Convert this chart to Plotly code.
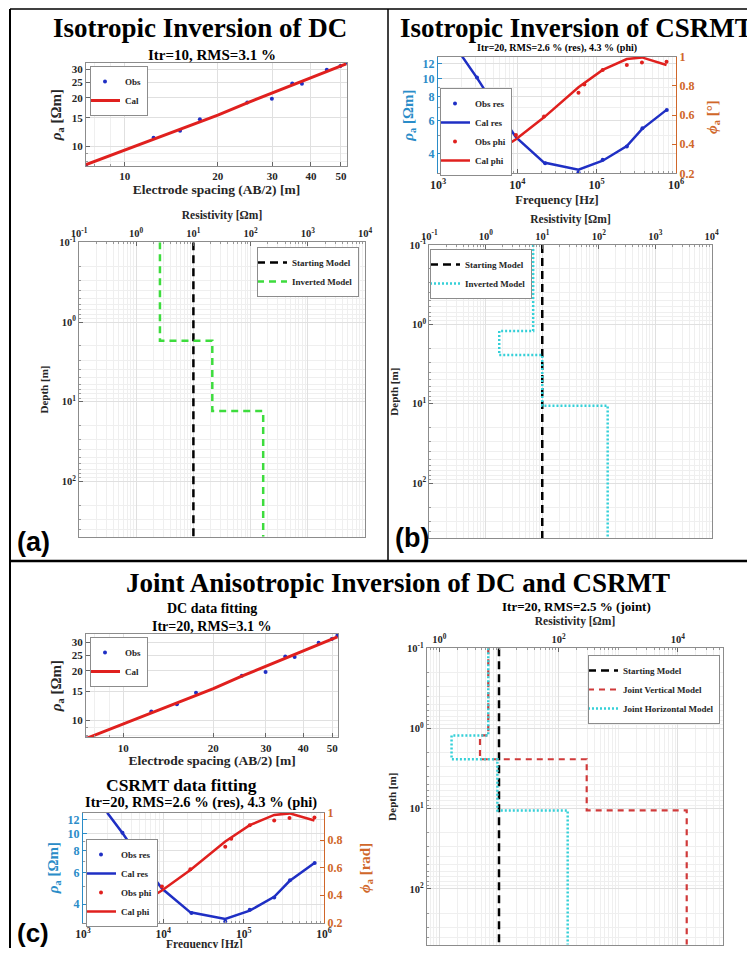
import plotly.graph_objects as go

# ---------------- data ----------------
# DC sounding (apparent resistivity vs AB/2)
ab2_obs = [7.5, 12.4, 15.1, 17.5, 24.9, 29.9, 34.8, 37.4, 45.0, 49.8, 52.0]
rho_obs = [7.7, 11.3, 12.5, 14.7, 18.7, 19.7, 24.5, 24.4, 29.8, 31.4, 33.0]
ab2_cal = [7.5, 10, 12.4, 15.1, 17.5, 20, 24.9, 29.9, 34.8, 37.4, 45, 52]
rho_cal = [7.7, 9.5, 11.1, 12.8, 14.3, 15.6, 18.6, 21.3, 23.9, 25.1, 28.8, 32.4]

# CSRMT sounding
f_res_obs = [3100, 7700, 22400, 59000, 119000, 240000, 377000, 766000]
res_obs = [10.1, 5.5, 3.57, 3.2, 3.72, 4.37, 5.46, 6.82]
f_phi_obs = [2050, 3130, 5400, 6300, 9600, 21700, 59000, 70000, 119000, 240000, 372000, 760000]
phi_obs = [0.338, 0.315, 0.342, 0.36, 0.463, 0.589, 0.753, 0.81, 0.909, 0.943, 0.961, 0.966]
f_cal = [2000, 3130, 5500, 9600, 21700, 59000, 119000, 240000, 372000, 760000]
res_cal = [13.1, 10.0, 6.9, 4.9, 3.6, 3.3, 3.68, 4.4, 5.4, 6.82]
phi_cal = [0.31, 0.315, 0.349, 0.434, 0.584, 0.79, 0.909, 0.984, 0.995, 0.943]

# layered models: resistivity of each layer and depth of each layer top
start_res = [10]
start_top = [0.1]
dc_res = [2.6, 21.4, 166]
dc_top = [0.1, 1.72, 13.1]
cs_res = [6.9, 1.73, 10, 144]
cs_top = [0.1, 1.21, 2.43, 10.6]
jh_res = [6.6, 1.6, 9.4, 142]
jh_top = [0.1, 1.22, 2.42, 10.5]
jv_res = [6.6, 4.8, 296, 14100]
jv_top = [0.1, 1.22, 2.42, 10.5]
depth_bottom = 495

# tick labels
dc_xticks = [10, 20, 30, 40, 50]
dc_yticks = [10, 15, 20, 25, 30]
cs_xticks = [1e3, 1e4, 1e5, 1e6]
cs_xtext = ["10<sup>3</sup>", "10<sup>4</sup>", "10<sup>5</sup>", "10<sup>6</sup>"]
cs_yticks = [4, 6, 8, 10, 12]
phi_ticks = [0.2, 0.4, 0.6, 0.8, 1]
phi_text = ["0.2", "0.4", "0.6", "0.8", "1"]
res_ticks = [0.1, 1, 10, 100, 1000, 10000]
res_text = ["10<sup>-1</sup>", "10<sup>0</sup>", "10<sup>1</sup>", "10<sup>2</sup>", "10<sup>3</sup>", "10<sup>4</sup>"]
jres_ticks = [1, 100, 10000]
jres_text = ["10<sup>0</sup>", "10<sup>2</sup>", "10<sup>4</sup>"]
dep_ticks = [0.1, 1, 10, 100]
dep_text = ["10<sup>-1</sup>", "10<sup>0</sup>", "10<sup>1</sup>", "10<sup>2</sup>"]


def minor_vals(lo, hi):
    out = []
    for e in range(lo, hi + 1):
        for m in range(1, 10):
            out.append(m * 10.0 ** e)
    return out


def step_xy(res, tops, bottom):
    xs, ys = [], []
    for i, r in enumerate(res):
        b = tops[i + 1] if i + 1 < len(tops) else bottom
        xs += [r, r]
        ys += [tops[i], b]
    return xs, ys


# ---------------- style ----------------
# the page body adds an 8 px margin; the figure is sized so the page is 755x956
OFF = 8
W, H = 755 - 2 * OFF, 956 - 2 * OFF
SERIF = "Liberation Serif, Times New Roman, serif"
SANS = "Liberation Sans, Arial, sans-serif"
BLUE_AX = "#2a8cc8"
ORANGE = "#d0672a"
C_BLUE = "#1f2fc4"
C_RED = "#e0201e"
GRID = "#e0e0e0"
MGRID = "#efefef"
LINE = "#8c8c8c"


def px(x):
    return (x - OFF) / W


def py(y):
    return 1 - (y - OFF) / H


def dom_x(a, b):
    return [px(a), px(b)]


def dom_y(top, bot):
    return [py(bot), py(top)]


def tfont(size=11, color="#262626"):
    return dict(family=SERIF, size=size, color=color, weight="bold")


def axis(**kw):
    d = dict(showline=True, linecolor=LINE, linewidth=1, mirror=True,
             ticks="inside", ticklen=4, tickcolor="#666", automargin=False,
             showgrid=True, gridcolor=GRID, gridwidth=1, zeroline=False,
             tickfont=tfont(11))
    d.update(kw)
    return d


def minor(vals):
    return dict(tickvals=vals, showgrid=True, gridcolor=MGRID, griddash="solid",
                ticks="inside", ticklen=2, tickcolor="#999")


fig = go.Figure()

# ---------- (a) top: DC fit ----------
fig.add_trace(go.Scatter(x=ab2_obs, y=rho_obs, mode="markers", name="Obs",
                         marker=dict(color=C_BLUE, size=4), xaxis="x", yaxis="y", legend="legend"))
fig.add_trace(go.Scatter(x=ab2_cal, y=rho_cal, mode="lines", name="Cal",
                         line=dict(color=C_RED, width=3), xaxis="x", yaxis="y", legend="legend"))

# ---------- (a) bottom: DC model ----------
sx, sy = step_xy(start_res, start_top, depth_bottom)
fig.add_trace(go.Scatter(x=sx, y=sy, mode="lines", name="Starting Model",
                         line=dict(color="black", width=2.5, dash="8px,5px"),
                         xaxis="x2", yaxis="y2", legend="legend2"))
mx, my = step_xy(dc_res, dc_top, depth_bottom)
fig.add_trace(go.Scatter(x=mx, y=my, mode="lines", name="Inverted Model",
                         line=dict(color="#3ddc3d", width=2.5, dash="7px,5px"),
                         xaxis="x2", yaxis="y2", legend="legend2"))


# ---------- (b) top: CSRMT fit ----------
def csrmt_traces(xa, ya, ya2, leg):
    fig.add_trace(go.Scatter(x=f_res_obs, y=res_obs, mode="markers", name="Obs res",
                             marker=dict(color=C_BLUE, size=4), xaxis=xa, yaxis=ya, legend=leg))
    fig.add_trace(go.Scatter(x=f_cal, y=res_cal, mode="lines", name="Cal res",
                             line=dict(color=C_BLUE, width=2.5), xaxis=xa, yaxis=ya, legend=leg))
    fig.add_trace(go.Scatter(x=f_phi_obs, y=phi_obs, mode="markers", name="Obs phi",
                             marker=dict(color=C_RED, size=4), xaxis=xa, yaxis=ya2, legend=leg))
    fig.add_trace(go.Scatter(x=f_cal, y=phi_cal, mode="lines", name="Cal phi",
                             line=dict(color=C_RED, width=2.5), xaxis=xa, yaxis=ya2, legend=leg))


csrmt_traces("x3", "y3", "y4", "legend3")

# ---------- (b) bottom: CSRMT model ----------
fig.add_trace(go.Scatter(x=sx, y=sy, mode="lines", name="Starting Model",
                         line=dict(color="black", width=2.5, dash="8px,5px"),
                         xaxis="x4", yaxis="y5", legend="legend4"))
cx, cy = step_xy(cs_res, cs_top, depth_bottom)
fig.add_trace(go.Scatter(x=cx, y=cy, mode="lines", name="Inverted Model",
                         line=dict(color="#35d0d8", width=2.5, dash="2px,2px"),
                         xaxis="x4", yaxis="y5", legend="legend4"))

# ---------- (c) left top: DC fit ----------
fig.add_trace(go.Scatter(x=ab2_obs, y=rho_obs, mode="markers", name="Obs",
                         marker=dict(color=C_BLUE, size=4), xaxis="x5", yaxis="y6", legend="legend5"))
fig.add_trace(go.Scatter(x=ab2_cal, y=rho_cal, mode="lines", name="Cal",
                         line=dict(color=C_RED, width=3), xaxis="x5", yaxis="y6", legend="legend5"))

# ---------- (c) left bottom: CSRMT fit ----------
csrmt_traces("x6", "y7", "y8", "legend6")

# ---------- (c) right: joint model ----------
fig.add_trace(go.Scatter(x=sx, y=sy, mode="lines", name="Starting Model",
                         line=dict(color="black", width=2.5, dash="8px,5px"),
                         xaxis="x7", yaxis="y9", legend="legend7"))
vx, vy = step_xy(jv_res, jv_top, depth_bottom)
fig.add_trace(go.Scatter(x=vx, y=vy, mode="lines", name="Joint Vertical Model",
                         line=dict(color="#d03a3a", width=2.2, dash="6px,5px"),
                         xaxis="x7", yaxis="y9", legend="legend7"))
hx, hy = step_xy(jh_res, jh_top, depth_bottom)
fig.add_trace(go.Scatter(x=hx, y=hy, mode="lines", name="Joint Horizontal Model",
                         line=dict(color="#35d0d8", width=2.5, dash="2px,2px"),
                         xaxis="x7", yaxis="y9", legend="legend7"))

# ---------------- axes ----------------
rho_title = dict(text="<i>ρ</i><sub>a</sub> [Ωm]", font=tfont(15))
dep_title = dict(text="Depth [m]", font=tfont(11), standoff=8)
res_title = dict(text="Resistivity [Ωm]", font=tfont(11.5), standoff=3)

lay = {}
# (a) top
lay["xaxis"] = axis(domain=dom_x(86, 347), anchor="y", type="log", range=[0.875, 1.7185],
                    tickvals=dc_xticks, minor=minor(minor_vals(0, 1)),
                    title=dict(text="Electrode spacing (AB/2) [m]", font=tfont(13.5), standoff=3))
lay["yaxis"] = axis(domain=dom_y(63, 166), anchor="x", type="log", range=[0.878, 1.516],
                    tickvals=dc_yticks, minor=minor(minor_vals(0, 1)),
                    title=dict(rho_title, standoff=6))
# (a) bottom
lay["xaxis2"] = axis(domain=dom_x(79, 365), anchor="y2", type="log", range=[-1, 4], side="top",
                     tickvals=res_ticks, ticktext=res_text, minor=minor(minor_vals(-1, 3)),
                     tickfont=tfont(10.5), title=res_title)
lay["yaxis2"] = axis(domain=dom_y(242.3, 536.7), anchor="x2", type="log", range=[2.694, -1],
                     tickvals=dep_ticks, ticktext=dep_text, minor=minor(minor_vals(-1, 2)),
                     tickfont=tfont(10.5), title=dep_title)
# (b) top
lay["xaxis3"] = axis(domain=dom_x(438, 676), anchor="y3", type="log", range=[3, 6],
                     tickvals=cs_xticks, ticktext=cs_xtext, minor=minor(minor_vals(3, 5)),
                     tickfont=tfont(12),
                     title=dict(text="Frequency [Hz]", font=tfont(12.5), standoff=4))
lay["yaxis3"] = axis(domain=dom_y(56.7, 173.3), anchor="x3", type="log", range=[0.4997, 1.114],
                     tickvals=cs_yticks, minor=minor(minor_vals(0, 1)), mirror=False,
                     linecolor=BLUE_AX, tickcolor=BLUE_AX, tickfont=tfont(12, BLUE_AX),
                     title=dict(text="<i>ρ</i><sub>a</sub> [Ωm]", font=tfont(15, BLUE_AX), standoff=5))
lay["yaxis4"] = axis(overlaying="y3", anchor="x3", side="right", range=[0.2, 1],
                     tickvals=phi_ticks, ticktext=phi_text, showgrid=False, mirror=False,
                     linecolor=ORANGE, tickcolor=ORANGE, tickfont=tfont(12, ORANGE))
# (b) bottom
lay["xaxis4"] = axis(domain=dom_x(429.3, 711.7), anchor="y5", type="log", range=[-1, 4], side="top",
                     tickvals=res_ticks, ticktext=res_text, minor=minor(minor_vals(-1, 3)),
                     tickfont=tfont(10.5), title=dict(res_title, standoff=2))
lay["yaxis5"] = axis(domain=dom_y(245, 538.3), anchor="x4", type="log", range=[2.694, -1],
                     tickvals=dep_ticks, ticktext=dep_text, minor=minor(minor_vals(-1, 2)),
                     tickfont=tfont(10.5), title=dep_title)
# (c) left top
lay["xaxis5"] = axis(domain=dom_x(86, 338.3), anchor="y6", type="log", range=[0.875, 1.719],
                     tickvals=dc_xticks, minor=minor(minor_vals(0, 1)),
                     title=dict(text="Electrode spacing (AB/2) [m]", font=tfont(13.5), standoff=3))
lay["yaxis6"] = axis(domain=dom_y(634, 737.3), anchor="x5", type="log", range=[0.894, 1.528],
                     tickvals=dc_yticks, minor=minor(minor_vals(0, 1)),
                     title=dict(rho_title, standoff=6))
# (c) left bottom (x title drawn as a note below)
lay["xaxis6"] = axis(domain=dom_x(83, 324), anchor="y7", type="log", range=[3, 6],
                     tickvals=cs_xticks, ticktext=cs_xtext, minor=minor(minor_vals(3, 5)),
                     tickfont=tfont(11.5))
lay["yaxis7"] = axis(domain=dom_y(812.7, 922.7), anchor="x6", type="log", range=[0.498, 1.117],
                     tickvals=cs_yticks, minor=minor(minor_vals(0, 1)), mirror=False,
                     linecolor=BLUE_AX, tickcolor=BLUE_AX, tickfont=tfont(12, BLUE_AX),
                     title=dict(text="<i>ρ</i><sub>a</sub> [Ωm]", font=tfont(15, BLUE_AX), standoff=5))
lay["yaxis8"] = axis(overlaying="y7", anchor="x6", side="right", range=[0.2, 1],
                     tickvals=phi_ticks, ticktext=phi_text, showgrid=False, mirror=False,
                     linecolor=ORANGE, tickcolor=ORANGE, tickfont=tfont(12, ORANGE))
# (c) right
lay["xaxis7"] = axis(domain=dom_x(426.7, 723.3), anchor="y9", type="log", range=[-0.213, 4.763], side="top",
                     tickvals=jres_ticks, ticktext=jres_text, minor=minor(minor_vals(-1, 4)),
                     tickfont=tfont(10.5), title=res_title)
lay["yaxis9"] = axis(domain=dom_y(648.3, 945), anchor="x7", type="log", range=[2.70, -1],
                     tickvals=dep_ticks, ticktext=dep_text, minor=minor(minor_vals(-1, 2)),
                     tickfont=tfont(10.5), title=dep_title)


def legend(x, y, xanchor="left", yanchor="top"):
    return dict(x=px(x), y=py(y), xanchor=xanchor, yanchor=yanchor, xref="paper", yref="paper",
                bgcolor="white", bordercolor=LINE, borderwidth=1, tracegroupgap=0,
                itemwidth=30, font=tfont(9), indentation=-6)


lay["legend"] = legend(90, 66)
lay["legend2"] = legend(359, 247, "right")
lay["legend3"] = legend(440, 88)
lay["legend4"] = legend(430, 249)
lay["legend5"] = legend(90, 637)
lay["legend6"] = legend(86, 839)
lay["legend7"] = legend(720, 655, "right")


# ---------------- text ----------------
def note(text, x, y, size, family=SERIF, xanchor="center", color="black", angle=0):
    return dict(text=text, x=px(x), y=py(y), xref="paper", yref="paper", showarrow=False,
                xanchor=xanchor, yanchor="middle", textangle=angle,
                font=dict(family=family, size=size, color=color, weight="bold"))


annotations = [
    note("Isotropic Inversion of DC", 200, 28, 27),
    note("Itr=10, RMS=3.1 %", 212, 55, 15),
    note("Isotropic Inversion of CSRMT", 398, 28, 27, xanchor="left"),
    note("Itr=20, RMS=2.6 % (res), 4.3 % (phi)", 557, 48, 10),
    note("Joint Anisotropic Inversion of DC and CSRMT", 398, 583, 27),
    note("DC data fitting", 212, 608, 14),
    note("Itr=20, RMS=3.1 %", 211, 626, 14),
    note("CSRMT data fitting", 181, 785, 17.5),
    note("Itr=20, RMS=2.6 % (res), 4.3 % (phi)", 201, 802, 14.5),
    note("Itr=20, RMS=2.5 % (joint)", 576, 606, 13),
    note("<i>ϕ</i><sub>a</sub> [°]", 713, 117, 15, color=ORANGE, angle=-90),
    note("<i>ϕ</i><sub>a</sub> [rad]", 366, 868, 15, color=ORANGE, angle=-90),
    note("Frequency [Hz]", 204, 944, 11.5, color="#262626"),
    note("(a)", 33, 542, 27, SANS),
    note("(b)", 412, 538, 27, SANS),
    note("(c)", 33, 933, 26, SANS),
]

shapes = [
    dict(type="line", xref="paper", yref="paper", x0=px(10), x1=1, y0=py(9), y1=py(9),
         line=dict(color="black", width=1.5)),
    dict(type="line", xref="paper", yref="paper", x0=px(10), x1=px(10), y0=py(9), y1=0,
         line=dict(color="black", width=2)),
    dict(type="line", xref="paper", yref="paper", x0=px(388), x1=px(388), y0=py(9), y1=py(561),
         line=dict(color="black", width=1.5)),
    dict(type="line", xref="paper", yref="paper", x0=px(10), x1=1, y0=py(561), y1=py(561),
         line=dict(color="black", width=2.5)),
]

fig.update_layout(width=W, height=H, margin=dict(l=0, r=0, t=0, b=0, autoexpand=False),
                  paper_bgcolor="white", plot_bgcolor="white", showlegend=True,
                  annotations=annotations, shapes=shapes, **lay)

fig.write_html("out.html")
